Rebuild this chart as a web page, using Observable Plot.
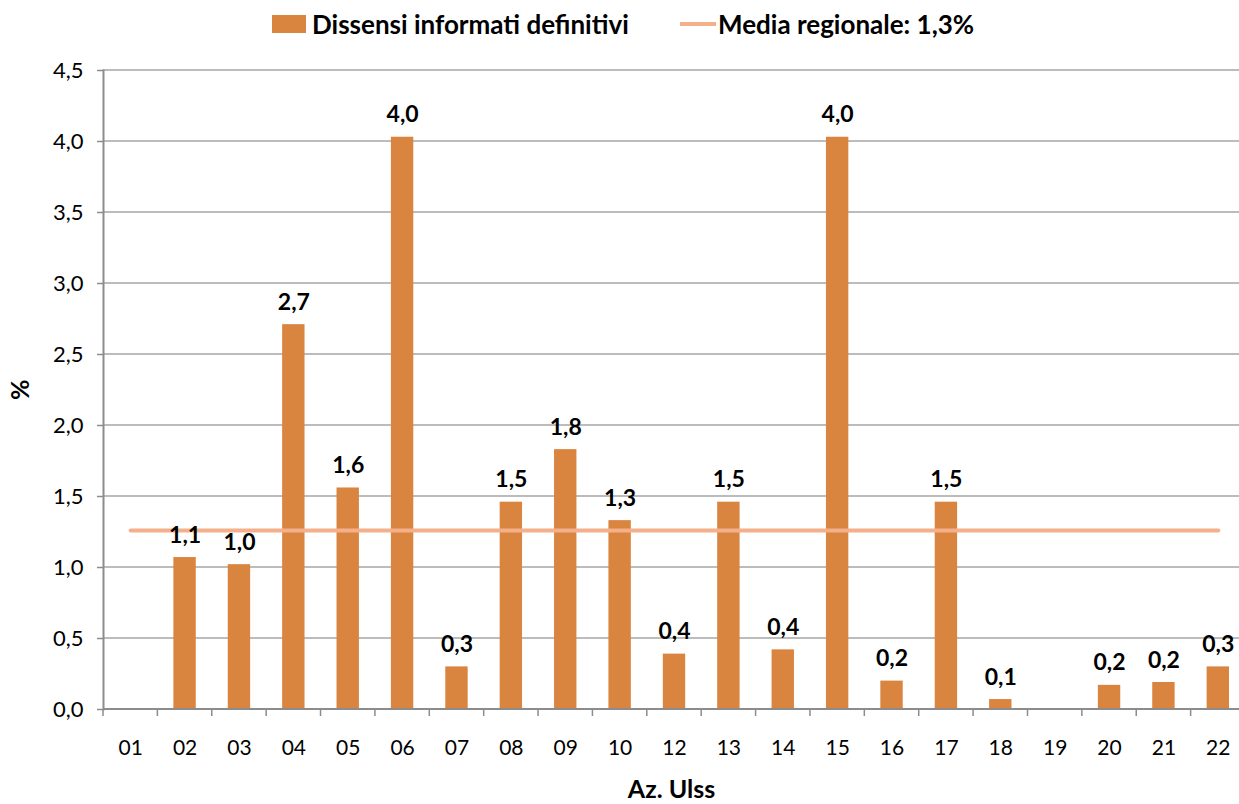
<!DOCTYPE html>
<html>
<head>
<meta charset="utf-8">
<script src="https://cdn.jsdelivr.net/npm/d3@7"></script>
<script src="https://cdn.jsdelivr.net/npm/@observablehq/plot@0.6"></script>
<style>
  html, body { margin: 0; padding: 0; background: #fff; width: 1239px; height: 804px; overflow: hidden; }
  body { font-family: Lato, "Open Sans", sans-serif; }
  #legend { height: 50px; position: relative; font-weight: bold; font-size: 26px; color: #000; }
  #legend .item { position: absolute; top: 8px; display: flex; align-items: center; height: 32px; }
  #legend .sw { width: 34px; height: 18px; background: #d9843f; margin-right: 6px; }
  #legend .ln { width: 36px; height: 4px; background: #f4b08a; margin-right: 2px; }
  #chart svg { display: block; overflow: visible; max-width: none; }
</style>
</head>
<body>
<div id="legend">
  <div class="item" style="left:272px"><span class="sw"></span><span>Dissensi informati definitivi</span></div>
  <div class="item" style="left:680px"><span class="ln"></span><span>Media regionale: 1,3%</span></div>
</div>
<div id="chart"></div>
<script>
const categories = ["01","02","03","04","05","06","07","08","09","10","12","13","14","15","16","17","18","19","20","21","22"];
const values = [null,1.07,1.02,2.71,1.56,4.03,0.30,1.46,1.83,1.33,0.39,1.46,0.42,4.03,0.20,1.46,0.07,0,0.17,0.19,0.30];
const mediaRegionale = 1.26;
const yTicks = [0,0.5,1,1.5,2,2.5,3,3.5,4,4.5];

const data = categories.map((c, i) => ({cat: c, v: values[i]}));
const bars = data.filter(d => d.v != null && d.v > 0);
const mean = [{cat: categories[0], v: mediaRegionale}, {cat: categories[categories.length - 1], v: mediaRegionale}];
const fmt = v => v.toFixed(1).replace(".", ",");

const W = 1239, H = 754;
const X0 = 103, X1 = 1245, Y0 = 659, Y1 = 20;

const plot = Plot.plot({
  width: W,
  height: H,
  marginTop: Y1,
  marginLeft: X0,
  marginRight: 0,
  marginBottom: H - Y0,
  style: {fontFamily: "Lato, 'Open Sans', sans-serif", fontSize: "21px", color: "#000", background: "#fff", overflow: "visible"},
  x: {domain: categories, range: [X0, X1], padding: 0, round: false, label: null},
  y: {domain: [0, 4.5], range: [Y0, Y1], label: null},
  marks: [
    Plot.ruleY(yTicks.filter(t => t > 0), {y: d => d, render: (index, scales, values) => {
        const g = d3.create("svg:g");
        for (const i of index) {
          const yy = values.y[i];
          g.append("line").attr("x1", X0).attr("x2", W).attr("y1", yy).attr("y2", yy).attr("stroke", "#a6a6a6").attr("stroke-width", 1.5);
        }
        return g.node();
      }}),
    Plot.barY(bars, {x: "cat", y: "v", fill: "#d9843f", insetLeft: 16, insetRight: 16}),
    Plot.line(mean, {x: "cat", y: "v", stroke: "#f4b08a", strokeWidth: 4}),
    Plot.text(bars, {x: "cat", y: "v", text: d => fmt(d.v), lineAnchor: "bottom", dy: -15, fontWeight: "bold", fontSize: 23, fill: "#000"}),
    Plot.frame({anchor: "left", stroke: "#8c8c8c", strokeWidth: 2, strokeOpacity: 1}),
    Plot.axisY(yTicks, {anchor: "left", tickSize: 6, tickPadding: 14, stroke: "#8c8c8c", strokeWidth: 1.5, strokeOpacity: 1, tickFormat: d => d.toFixed(1).replace(".", ","), fontSize: 22, fill: "#000", label: null}),
    Plot.ruleY([0], {y: d => d, render: (index, scales, values) => {
        const g = d3.create("svg:g");
        g.append("line").attr("x1", X0).attr("x2", W).attr("y1", Y0).attr("y2", Y0).attr("stroke", "#8c8c8c").attr("stroke-width", 2);
        return g.node();
      }}),
    Plot.axisX(categories, {anchor: "bottom", tickSize: 0, tickPadding: 31, fontSize: 21, fill: "#000", label: null}),
    Plot.tickX(categories, {x: d => d, render: (index, scales) => {
        const g = d3.create("svg:g");
        const step = scales.x.step ? scales.x.step() : (X1 - X0) / categories.length;
        for (let i = 0; i <= categories.length; i++) {
          const xx = (i < categories.length ? scales.x(categories[i]) : scales.x(categories[i - 1]) + step);
          g.append("line").attr("x1", xx).attr("x2", xx).attr("y1", Y0).attr("y2", Y0 + 7).attr("stroke", "#8c8c8c").attr("stroke-width", 1.5);
        }
        return g.node();
      }}),
    Plot.text(["Az. Ulss"], {frameAnchor: "bottom", text: d => d, dy: 80, fontWeight: "bold", fontSize: 25, fill: "#000", lineAnchor: "middle"}),
    Plot.text(["%"], {frameAnchor: "left", text: d => d, dx: -83, dy: 10, rotate: -90, fontWeight: "bold", fontSize: 25, fill: "#000"})
  ]
});
document.getElementById("chart").appendChild(plot);
</script>
</body>
</html>
